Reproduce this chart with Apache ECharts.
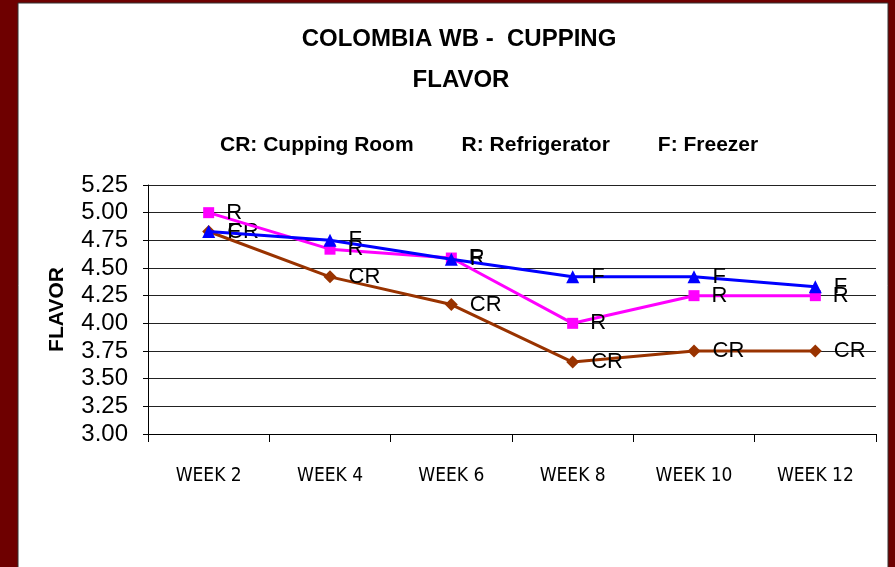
<!DOCTYPE html>
<html>
<head>
<meta charset="utf-8">
<script src="https://cdn.jsdelivr.net/npm/echarts@6/dist/echarts.min.js"></script>
<style>
  html, body { margin: 0; padding: 0; }
  #chart { width: 895px; height: 567px; }
</style>
</head>
<body>
<div id="chart"></div>
<script>
var weeks = ['WEEK 2', 'WEEK 4', 'WEEK 6', 'WEEK 8', 'WEEK 10', 'WEEK 12'];
var cuppingRoom = [4.83, 4.42, 4.17, 3.65, 3.75, 3.75];
var refrigerator = [5.00, 4.67, 4.59, 4.00, 4.25, 4.25];
var freezer = [4.83, 4.75, 4.58, 4.42, 4.42, 4.33];
var yTicks = [3.00, 3.25, 3.50, 3.75, 4.00, 4.25, 4.50, 4.75, 5.00, 5.25];

var myChart = echarts.init(document.getElementById('chart'));
var arial = 'Liberation Sans, Arial, sans-serif';

function pointLabel(txt) {
    return {
        show: true,
        position: 'right',
        distance: 12,
        formatter: txt,
        color: '#000',
        fontSize: 22,
        fontFamily: arial
    };
}

myChart.setOption({
    backgroundColor: '#6e0000',
    animation: false,
    graphic: [
        {
            type: 'rect',
            shape: { x: 18, y: 3, width: 870, height: 570 },
            style: { fill: '#fff', stroke: '#333', lineWidth: 1 },
            z: -10
        }
    ],
    title: [
        {
            text: 'COLOMBIA WB -  CUPPING',
            left: 454,
            top: 22,
            textAlign: 'center',
            textStyle: { fontSize: 24, fontWeight: 'bold', color: '#000', fontFamily: arial }
        },
        {
            text: 'FLAVOR',
            left: 456,
            top: 63,
            textAlign: 'center',
            textStyle: { fontSize: 24, fontWeight: 'bold', color: '#000', fontFamily: arial }
        }
    ],
    legend: {
        left: 210,
        top: 130,
        icon: 'none',
        itemWidth: 0,
        itemHeight: 0,
        itemGap: 43,
        selectedMode: false,
        textStyle: { fontSize: 21, fontWeight: 'bold', color: '#000', fontFamily: arial },
        data: ['CR: Cupping Room', 'R: Refrigerator', 'F: Freezer']
    },
    grid: {
        left: 148,
        right: 19,
        top: 185,
        bottom: 133
    },
    xAxis: {
        type: 'category',
        data: weeks,
        boundaryGap: true,
        axisLine: { lineStyle: { color: '#000', width: 1 } },
        axisTick: { show: true, length: 8, lineStyle: { color: '#000' } },
        axisLabel: {
            margin: 33,
            color: '#000',
            fontSize: 19,
            fontFamily: 'Liberation Sans Narrow, DejaVu Sans Condensed, sans-serif'
        }
    },
    yAxis: {
        type: 'value',
        min: 3,
        max: 5.25,
        interval: 0.25,
        name: 'FLAVOR',
        nameLocation: 'middle',
        nameGap: 80,
        nameTextStyle: { fontSize: 21, fontWeight: 'bold', color: '#000', fontFamily: arial },
        axisLine: { show: true, lineStyle: { color: '#000', width: 1 } },
        axisTick: { show: true, inside: false, length: 5, lineStyle: { color: '#000' } },
        splitLine: { show: true, lineStyle: { color: '#222', width: 1 } },
        axisLabel: {
            margin: 20,
            color: '#000',
            fontSize: 24,
            fontFamily: arial,
            formatter: function (v) { return v.toFixed(2); }
        }
    },
    series: [
        {
            name: 'CR: Cupping Room',
            type: 'line',
            data: cuppingRoom,
            symbol: 'diamond',
            symbolSize: 13,
            itemStyle: { color: '#993300' },
            lineStyle: { color: '#993300', width: 3 },
            label: pointLabel('CR'),
            z: 2
        },
        {
            name: 'R: Refrigerator',
            type: 'line',
            data: refrigerator,
            symbol: 'rect',
            symbolSize: 11,
            itemStyle: { color: '#ff00ff' },
            lineStyle: { color: '#ff00ff', width: 3 },
            label: pointLabel('R'),
            z: 3
        },
        {
            name: 'F: Freezer',
            type: 'line',
            data: freezer,
            symbol: 'triangle',
            symbolSize: 13,
            itemStyle: { color: '#0000ff' },
            lineStyle: { color: '#0000ff', width: 3 },
            label: pointLabel('F'),
            z: 4
        }
    ]
}, true);
</script>
</body>
</html>
